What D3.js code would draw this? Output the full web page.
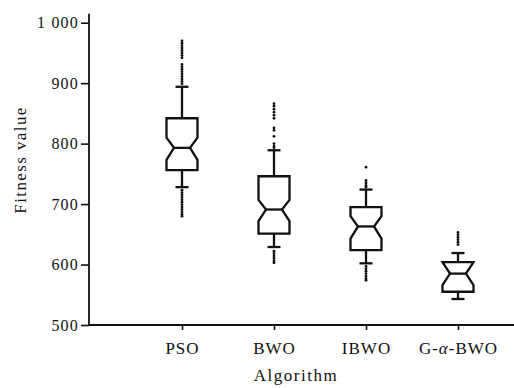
<!DOCTYPE html>
<html>
<head>
<meta charset="utf-8">
<script src="https://cdn.jsdelivr.net/npm/d3@7"></script>
<style>
  html, body { margin: 0; padding: 0; background: #fff; }
  svg { display: block; }
</style>
</head>
<body>
<svg id="chart" width="514" height="388"></svg>
<script>
const categories = ["PSO", "BWO", "IBWO", "G-α-BWO"];
const q1        = [756, 651, 624, 555];
const medians   = [793, 691, 663, 585];
const q3        = [842, 746, 695, 604];
const notchLo   = [773, 672, 643, 566];
const notchHi   = [810, 707, 680, 612];
const whiskerLo = [728, 629, 602, 543];
const whiskerHi = [894, 789, 724, 619];
const outliers = [
  [970, 966, 962, 958, 954, 950, 946, 942, 931, 927, 923, 919, 915, 911, 907, 903, 899,
   723, 719, 715, 711, 707, 703, 699, 695, 691, 687, 683, 680],
  [866, 862, 857, 852, 847, 842, 826, 822, 812, 800, 796, 793,
   622, 618, 614, 610, 606, 603],
  [761, 739, 735, 731, 728,
   597, 593, 589, 585, 581, 577, 574],
  [653, 649, 645, 641, 637, 633]
];
const yTicks = [500, 600, 700, 800, 900, 1000];
const yTickLabels = ["500", "600", "700", "800", "900", "1 000"];

const FONT = "'Liberation Serif', 'Times New Roman', Times, serif";
const svg = d3.select("#chart");
const y = d3.scaleLinear().domain([500, 1000]).range([325, 22.7]);
const x = d3.scalePoint().domain(categories).range([182, 458]);
const axisLeftX = 89, axisRightX = 514;
const boxHalf = 15.5, notchHalf = 8, capHalf = 6.5;

// Y axis
const gy = svg.append("g").attr("transform", `translate(${axisLeftX},0)`)
  .call(d3.axisLeft(y).tickValues(yTicks).tickSize(8).tickPadding(2)
        .tickFormat((d, i) => yTickLabels[i]));
gy.select(".domain").remove();
gy.selectAll(".tick line").attr("stroke", "#111").attr("stroke-width", 1.6);
gy.selectAll(".tick text").style("font-family", FONT).style("font-size", "16px")
  .style("letter-spacing", "1.2px").attr("fill", "#111");
svg.append("line").attr("x1", axisLeftX).attr("x2", axisLeftX)
  .attr("y1", y(500)).attr("y2", y(1000) - 9)
  .attr("stroke", "#111").attr("stroke-width", 1.8);

// X axis
const gx = svg.append("g").attr("transform", `translate(0,${y(500)})`)
  .call(d3.axisBottom(x).tickSize(5).tickPadding(12));
gx.select(".domain").remove();
gx.selectAll(".tick line").attr("stroke", "#111").attr("stroke-width", 1.6);
gx.selectAll(".tick text").style("font-family", FONT).style("font-size", "17px")
  .style("letter-spacing", "1px").attr("fill", "#111")
  .each(function(d) {
    const t = d3.select(this);
    if (d.includes("α")) {
      const parts = d.split("α");
      t.text(null);
      t.append("tspan").text(parts[0]);
      t.append("tspan").style("font-style", "italic").text("α");
      t.append("tspan").text(parts[1]);
    }
  });
svg.append("line").attr("x1", axisLeftX).attr("x2", axisRightX)
  .attr("y1", y(500)).attr("y2", y(500))
  .attr("stroke", "#111").attr("stroke-width", 1.8);

// Axis titles
svg.append("text").attr("x", 296).attr("y", 381).attr("text-anchor", "middle")
  .style("font-family", FONT).style("font-size", "17px").style("letter-spacing", "1.5px")
  .attr("fill", "#111").text("Algorithm");
svg.append("text").attr("transform", "translate(26,160) rotate(-90)")
  .attr("text-anchor", "middle").style("font-family", FONT).style("font-size", "17px")
  .style("letter-spacing", "1.4px").attr("fill", "#111").text("Fitness value");

// Boxes
const boxes = svg.append("g");
categories.forEach((c, i) => {
  const cx = x(c);
  const g = boxes.append("g");
  const stroke = "#111", sw = 2.3;
  g.append("line").attr("x1", cx).attr("x2", cx).attr("y1", y(q3[i])).attr("y2", y(whiskerHi[i]))
    .attr("stroke", stroke).attr("stroke-width", sw);
  g.append("line").attr("x1", cx).attr("x2", cx).attr("y1", y(q1[i])).attr("y2", y(whiskerLo[i]))
    .attr("stroke", stroke).attr("stroke-width", sw);
  g.append("line").attr("x1", cx - capHalf).attr("x2", cx + capHalf)
    .attr("y1", y(whiskerHi[i])).attr("y2", y(whiskerHi[i])).attr("stroke", stroke).attr("stroke-width", sw);
  g.append("line").attr("x1", cx - capHalf).attr("x2", cx + capHalf)
    .attr("y1", y(whiskerLo[i])).attr("y2", y(whiskerLo[i])).attr("stroke", stroke).attr("stroke-width", sw);
  const nHi = Math.min(notchHi[i], q3[i]);
  const nLo = Math.max(notchLo[i], q1[i]);
  const L = cx - boxHalf, R = cx + boxHalf, iL = cx - notchHalf, iR = cx + notchHalf;
  const pts = [
    [L, y(q1[i])], [L, y(nLo)], [iL, y(medians[i])], [L, y(nHi)], [L, y(q3[i])],
    [R, y(q3[i])], [R, y(nHi)], [iR, y(medians[i])], [R, y(nLo)], [R, y(q1[i])]
  ];
  g.append("path").attr("d", d3.line()(pts) + "Z")
    .attr("fill", "#fff").attr("stroke", stroke).attr("stroke-width", sw)
    .attr("stroke-linejoin", "miter");
  g.append("line").attr("x1", iL).attr("x2", iR)
    .attr("y1", y(medians[i])).attr("y2", y(medians[i])).attr("stroke", stroke).attr("stroke-width", sw);
  g.selectAll("circle").data(outliers[i]).join("circle")
    .attr("cx", cx).attr("cy", d => y(d)).attr("r", 1.4).attr("fill", "#111");
});
</script>
</body>
</html>
